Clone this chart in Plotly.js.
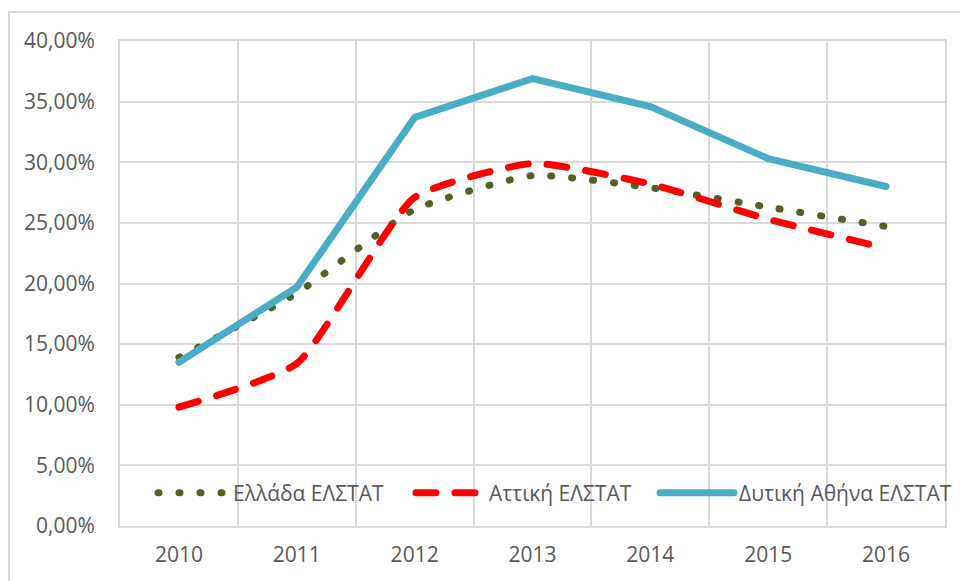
<!DOCTYPE html>
<html>
<head>
<meta charset="utf-8">
<script src="https://cdn.plot.ly/plotly-3.0.1.min.js"></script>
<style>
html,body{margin:0;padding:0;background:#fff;}
#chart{width:960px;height:581px;}
path.js-line{stroke-linecap:round;}
</style>
</head>
<body>
<div id="chart"></div>
<script>
const years = ['2010','2011','2012','2013','2014','2015','2016'];
const ellada = [0.139, 0.192, 0.261, 0.289, 0.279, 0.263, 0.247];
const attiki = [0.098, 0.134, 0.271, 0.299, 0.282, 0.253, 0.229];
const dytikiAthina = [0.135, 0.197, 0.337, 0.369, 0.346, 0.303, 0.280];
const seriesNames = ['Ελλάδα ΕΛΣΤΑΤ', 'Αττική ΕΛΣΤΑΤ', 'Δυτική Αθήνα ΕΛΣΤΑΤ'];

const idx = years.map((_, i) => i);

const traces = [
  {x: idx, y: ellada, name: seriesNames[0], mode: 'lines', legend: 'legend',
   line: {color: '#4F6228', width: 7, dash: '1px,20px', shape: 'spline', smoothing: 0.5}},
  {x: idx, y: attiki, name: seriesNames[1], mode: 'lines', legend: 'legend2',
   line: {color: '#FF0000', width: 7, dash: '20px,19px', shape: 'spline', smoothing: 0.5}},
  {x: idx, y: dytikiAthina, name: seriesNames[2], mode: 'lines', legend: 'legend3',
   line: {color: '#4BACC6', width: 7, shape: 'linear'}}
];

const font = {family: '"Open Sans", "Noto Sans", sans-serif', size: 21, color: '#595959'};

function leg(x, w) {
  return {orientation: 'h', x: x, y: 0.068, xanchor: 'left', yanchor: 'middle',
          bgcolor: 'rgba(0,0,0,0)', borderwidth: 0, font: font, itemwidth: w};
}

const layout = {
  width: 960, height: 581,
  margin: {l: 120, r: 15, t: 41, b: 55, autoexpand: false},
  paper_bgcolor: '#fff', plot_bgcolor: '#fff',
  separators: ', ',
  font: font,
  showlegend: true,
  legend: leg(0.04, 70),
  legend2: leg(0.3527, 68),
  legend3: leg(0.6485, 74),
  xaxis: {
    range: [-0.5, 6.5], tickmode: 'array', tickvals: idx, ticktext: years,
    showgrid: false, zeroline: false,
    showline: true, mirror: true, linecolor: '#D9D9D9', linewidth: 2,
    ticks: 'outside', ticklen: 9, tickcolor: 'rgba(0,0,0,0)',
    minor: {tick0: 0.5, dtick: 1, showgrid: true, gridcolor: '#D9D9D9', gridwidth: 2, ticks: ''},
    tickfont: font, fixedrange: true
  },
  yaxis: {
    range: [0, 0.4], tick0: 0, dtick: 0.05, tickformat: '.2%',
    showgrid: true, gridcolor: '#D9D9D9', gridwidth: 2, zeroline: false,
    showline: true, mirror: true, linecolor: '#D9D9D9', linewidth: 2,
    ticks: 'outside', ticklen: 19, tickcolor: 'rgba(0,0,0,0)',
    tickfont: font, fixedrange: true
  },
  shapes: [{
    type: 'rect', xref: 'paper', yref: 'paper',
    x0: -0.1345, x1: 1.05, y0: -0.2, y1: 1.0598,
    line: {color: '#D9D9D9', width: 2}, fillcolor: 'rgba(0,0,0,0)', layer: 'below'
  }]
};

Plotly.newPlot('chart', traces, layout, {displayModeBar: false, staticPlot: true});
</script>
</body>
</html>
